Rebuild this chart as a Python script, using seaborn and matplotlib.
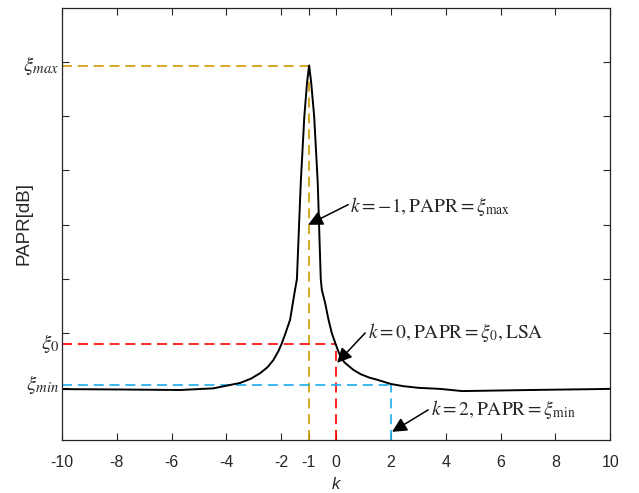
import numpy as np
import pandas as pd
import seaborn as sns
import matplotlib
matplotlib.use("Agg")
from matplotlib import pyplot as plt
from matplotlib import transforms

# curve (k, PAPR in arbitrary tick units)
k_vals = [-10, -8.0, -6.4, -5.69, -4.48, -3.5, -3.1, -2.77, -2.5, -2.29, -2.1, -1.98, -1.85,
          -1.68, -1.5, -1.43, -1.29, -1.16, -1.06, -0.985, -0.91, -0.80, -0.67, -0.56,
          -0.52, -0.40, -0.28, -0.16, 0.0, 0.15, 0.3, 0.63, 0.9, 1.2, 1.49, 2.0, 2.46,
          3.0, 3.8, 4.6, 7.1, 10]
papr_vals = [3.976, 3.97, 3.963, 3.96, 3.99, 4.09, 4.17, 4.27, 4.38, 4.51, 4.68, 4.82, 5.0,
             5.25, 5.80, 6.0, 7.77, 8.99, 9.62, 9.93, 9.62, 8.99, 7.77, 6.0,
             5.80, 5.56, 5.26, 5.01, 4.78, 4.58, 4.47, 4.33, 4.25, 4.19, 4.15, 4.07, 4.03,
             4.0, 3.98, 3.94, 3.96, 3.98]

xi_max, xi_0, xi_min = 9.93, 4.81, 4.055
k_max, k_0, k_min = -1, 0, 2

x_ticks = [-10, -8, -6, -4, -2, -1, 0, 2, 4, 6, 8, 10]
y_ticks = [4, 5, 6, 7, 8, 9, 10]
y_labels = [r'$\xi_{max}$', r'$\xi_0$', r'$\xi_{min}$']

notes = [r'$k=-1,\mathrm{PAPR}=\xi_{\max}$',
         r'$k=0,\mathrm{PAPR}=\xi_0,\mathrm{LSA}$',
         r'$k=2,\mathrm{PAPR}=\xi_{\min}$']
note_text = [(0.51, 7.33), (1.17, 5.01), (3.47, 3.595)]
note_tail = [(0.44, 7.37), (1.06, 5.01), (3.36, 3.595)]
note_tip = [(-1.02, 7.0), (0.036, 4.46), (2.04, 3.19)]

sns.set_style("white")
plt.rcParams['font.family'] = ['Liberation Sans', 'DejaVu Sans']
plt.rcParams['mathtext.fontset'] = 'stix'

df = pd.DataFrame({'k': k_vals, 'PAPR': papr_vals})

fig = plt.figure(figsize=(6.39, 4.93), dpi=100)
ax = fig.add_axes([0.097, 0.1075, 0.858, 0.8765])

ylo, yhi = 3.04, 10.99
dash = (0, (6, 3.5))
gold, red, blue = '#D09A00', '#FF0000', '#1AACEF'

# guide lines
ax.plot([-10, k_max], [xi_max, xi_max], color=gold, ls=dash, lw=1.2)
ax.plot([k_max, k_max], [ylo, xi_max], color=gold, ls=dash, lw=1.2)
ax.plot([-10, k_0], [xi_0, xi_0], color=red, ls=dash, lw=1.2)
ax.plot([k_0, k_0], [ylo, xi_0], color=red, ls=dash, lw=1.2)
ax.plot([-10, k_min], [xi_min, xi_min], color=blue, ls=dash, lw=1.2)
ax.plot([k_min, k_min], [ylo, xi_min], color=blue, ls=dash, lw=1.2)

sns.lineplot(data=df, x='k', y='PAPR', color='black', lw=1.4, ax=ax, sort=False)

ax.set_xlim(-10, 10)
ax.set_ylim(ylo, yhi)
ax.set_xticks(x_ticks)
ax.set_xticklabels([str(t) for t in x_ticks], fontsize=11.5)
ax.set_yticks(y_ticks)
ax.set_yticklabels([])
ax.tick_params(direction='in', length=5, width=0.8, bottom=True, left=True,
               top=True, right=True, colors='#262626')
ax.tick_params(axis='x', pad=11)
for s in ax.spines.values():
    s.set_color('#262626')
    s.set_linewidth(0.9)

ax.set_xlabel('k', fontsize=12, style='italic', labelpad=5)
ax.set_ylabel('PAPR[dB]', fontsize=13.5)
ax.yaxis.set_label_coords(-0.053, 0.5)

trans = transforms.blended_transform_factory(ax.transAxes, ax.transData)
for lab, yv in zip(y_labels, [xi_max, xi_0, xi_min]):
    ax.text(-0.005, yv, lab, transform=trans, ha='right', va='center', fontsize=15)

for txt, pos, tail, tip in zip(notes, note_text, note_tail, note_tip):
    ax.annotate('', xy=tip, xytext=tail,
                arrowprops=dict(arrowstyle='-|>', color='black', lw=1.1,
                                mutation_scale=22, shrinkA=0, shrinkB=0))
    ax.text(pos[0], pos[1], txt, ha='left', va='center', fontsize=14)

fig.savefig('out.png', dpi=100)
